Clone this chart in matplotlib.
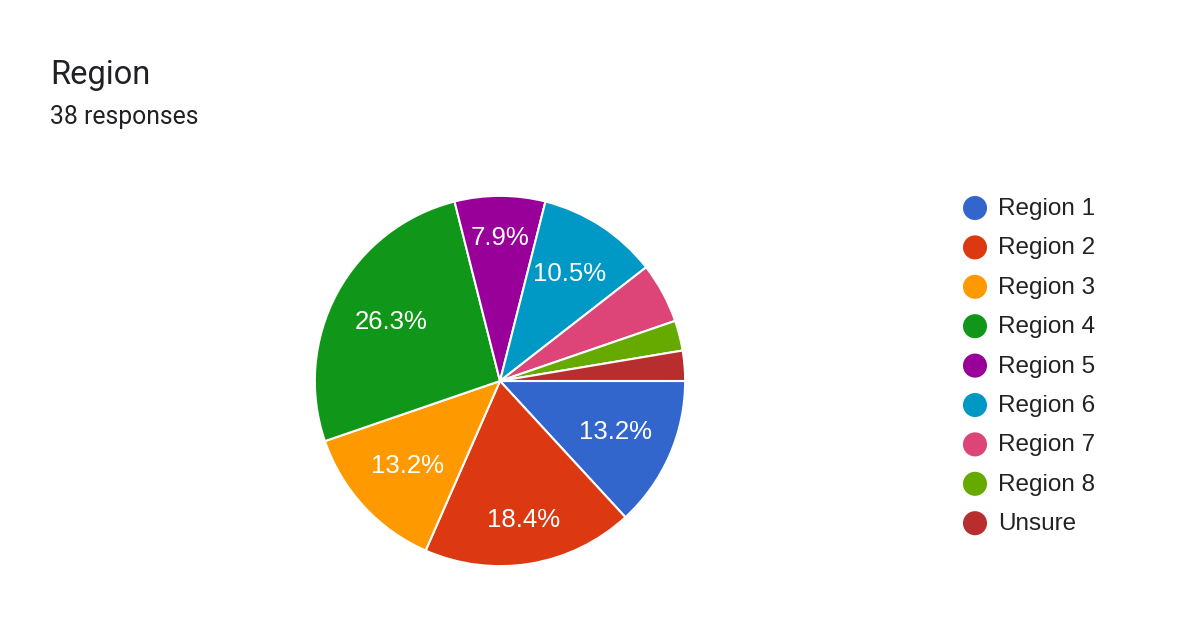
import matplotlib
matplotlib.use("Agg")
import matplotlib.pyplot as plt
import numpy as np

title = "Region"
subtitle = "38 responses"
categories = ["Region 1", "Region 2", "Region 3", "Region 4", "Region 5",
              "Region 6", "Region 7", "Region 8", "Unsure"]
counts = [5, 7, 5, 10, 3, 4, 2, 1, 1]
colors = ["#3366cc", "#dc3912", "#ff9900", "#109618", "#990099",
          "#0099c6", "#dd4477", "#66aa00", "#b82e2e"]
# radial position of each percentage label (fraction of radius)
label_dist = [0.68, 0.76, 0.68, 0.67, 0.77, 0.69, 0.7, 0.7, 0.7]

W, H = 1200, 639
fig = plt.figure(figsize=(W / 100, H / 100), dpi=100)
fig.patch.set_facecolor("white")

cx, cy, r = 500, 381, 187
ax = fig.add_axes([(cx - r) / W, (H - cy - r) / H, 2 * r / W, 2 * r / H])

def fmt(p):
    return f"{p:.1f}%" if p >= 7 else ""

wedges, texts, autotexts = ax.pie(
    counts, colors=colors, startangle=0, counterclock=False,
    autopct=fmt, pctdistance=0.68, radius=1,
    wedgeprops=dict(edgecolor="white", linewidth=1.5),
    textprops=dict(color="white", fontsize=18.5,
                   family=["Liberation Sans", "DejaVu Sans"]))
for w, t, d in zip(wedges, autotexts, label_dist):
    ang = np.deg2rad((w.theta1 + w.theta2) / 2)
    t.set_position((d * np.cos(ang), d * np.sin(ang)))
ax.set_xlim(-1.01, 1.01)
ax.set_ylim(-1.01, 1.01)
ax.set_aspect("equal")
ax.axis("off")

ov = fig.add_axes([0, 0, 1, 1], zorder=5)
ov.set_xlim(0, W)
ov.set_ylim(H, 0)
ov.axis("off")
ov.patch.set_alpha(0)

ov.text(50, 84, title, fontsize=23.5, family="Roboto", color="#202124",
        ha="left", va="baseline")
ov.text(50, 124, subtitle, fontsize=17.8, family="Roboto", color="#202124",
        ha="left", va="baseline")

y0, dy = 208, 39.4
for i, (lab, c) in enumerate(zip(categories, colors)):
    y = y0 + i * dy
    ov.scatter([975], [y], s=300, color=c, edgecolors="none")
    ov.text(998, y + 1, lab, fontsize=17.5,
            family=["Liberation Sans", "DejaVu Sans"],
            color="#222222", ha="left", va="center")

fig.savefig("out.png", dpi=100, facecolor="white")
